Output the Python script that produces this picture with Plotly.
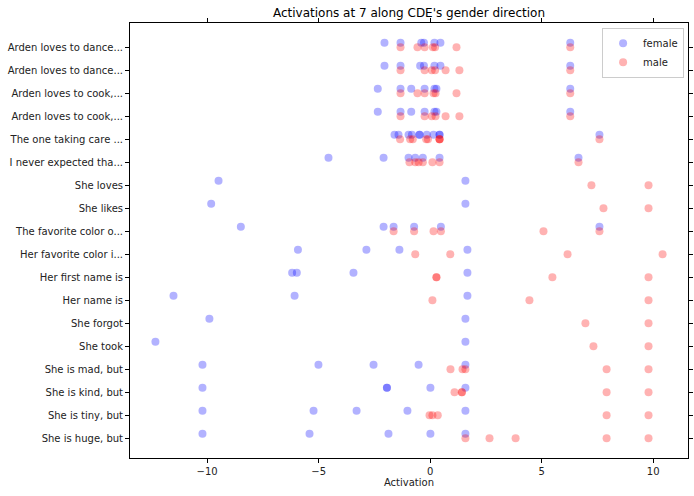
import plotly.graph_objects as go

labels = [
    "Arden loves to dance...", "Arden loves to dance...", "Arden loves to cook,...",
    "Arden loves to cook,...", "The one taking care ...", "I never expected tha...",
    "She loves", "She likes", "The favorite color o...", "Her favorite color i...",
    "Her first name is", "Her name is", "She forgot", "She took",
    "She is mad, but", "She is kind, but", "She is tiny, but", "She is huge, but",
]

female = [
    [-2.05, -1.33, -0.40, -0.28, 0.19, 0.46, 6.28],
    [-2.05, -1.33, -0.45, -0.28, 0.19, 0.46, 6.28],
    [-2.35, -1.33, -0.85, -0.25, 0.19, 0.28, 6.28],
    [-2.35, -1.33, -0.85, -0.25, 0.19, 0.28, 6.28],
    [-1.60, -1.42, -0.97, -0.82, -0.48, -0.48, -0.15, 0.15, 0.42, 0.42, 7.59],
    [-4.56, -2.09, -0.97, -0.67, -0.33, 0.42, 6.65],
    [-9.49, 1.58],
    [-9.82, 1.58],
    [-8.49, -2.09, -1.64, -0.72, 0.48, 7.59],
    [-5.93, -2.86, -1.38, 1.67],
    [-6.19, -5.98, -3.44, 1.67],
    [-11.51, -6.08, 1.67],
    [-9.90, 1.58],
    [-12.32, 1.58],
    [-10.21, -5.01, -2.54, -0.52, 1.58],
    [-10.21, -1.94, -1.94, 0.01, 1.58],
    [-10.21, -5.23, -3.30, -1.02, 1.58],
    [-10.21, -5.41, -1.87, 0.01, 1.58],
]

male = [
    [-1.33, -0.57, -0.25, 0.12, 0.22, 1.18, 6.28],
    [-1.33, -0.25, 0.07, 0.22, 0.69, 1.31, 6.28],
    [-1.33, -0.57, -0.25, 0.15, 0.24, 1.18, 6.28],
    [-1.33, -0.25, 0.07, 0.24, 0.69, 1.31, 6.28],
    [-1.35, -0.90, -0.78, -0.18, -0.10, 0.42, 0.42, 0.42, 7.59],
    [-0.93, -0.67, -0.52, -0.33, 0.10, 0.42, 6.65],
    [7.23, 9.79],
    [7.77, 9.79],
    [-1.64, -0.72, 0.15, 0.48, 5.08, 7.59],
    [-0.67, 0.90, 6.16, 10.42],
    [0.28, 0.28, 5.48, 9.79],
    [0.10, 4.45, 9.79],
    [6.96, 9.79],
    [7.32, 9.79],
    [0.91, 1.45, 1.58, 7.91, 9.79],
    [1.09, 1.42, 1.42, 7.91, 9.79],
    [-0.03, 0.10, 0.34, 7.91, 9.79],
    [1.58, 2.66, 3.83, 7.91, 9.79],
]

female_offset = -0.2

fx, fy, mx, my = [], [], [], []
for i, vals in enumerate(female):
    fx += vals
    fy += [i + female_offset] * len(vals)
for i, vals in enumerate(male):
    mx += vals
    my += [i] * len(vals)

fig = go.Figure()
fig.add_trace(go.Scatter(x=fx, y=fy, mode="markers", name="female",
                         marker=dict(color="blue", size=8, opacity=0.3, line=dict(width=0))))
fig.add_trace(go.Scatter(x=mx, y=my, mode="markers", name="male",
                         marker=dict(color="red", size=8, opacity=0.3, line=dict(width=0))))

W, H = 694, 496
fig.update_layout(
    width=W, height=H,
    margin=dict(l=130, r=6, t=23, b=38, autoexpand=False),
    plot_bgcolor="white", paper_bgcolor="white",
    font=dict(family="DejaVu Sans", size=10, color="#222"),
    title=dict(text="Activations at 7 along CDE's gender direction", x=0.5, xanchor="center",
               xref="paper", y=1 - 12.5 / H, yanchor="middle",
               font=dict(size=12, color="black")),
    showlegend=True,
    legend=dict(x=0.993, y=0.989, xanchor="right", yanchor="top",
                bordercolor="#cccccc", borderwidth=1, bgcolor="rgba(255,255,255,0.8)",
                font=dict(size=10), tracegroupgap=0, itemwidth=30),
)
fig.update_xaxes(range=[-13.46, 11.56], tickvals=[-10, -5, 0, 5, 10],
                 ticktext=["\u221210", "\u22125", "0", "5", "10"],
                 showgrid=False, zeroline=False, showline=True, linecolor="black",
                 linewidth=1, mirror="all", ticks="outside", ticklen=4, tickcolor="black",
                 automargin=False,
                 title=dict(text="Activation", standoff=2, font=dict(size=10)))
fig.update_yaxes(range=[17.86, -1.06], tickvals=list(range(len(labels))), ticktext=labels,
                 showgrid=False, zeroline=False, showline=True, linecolor="black",
                 linewidth=1, mirror="all", ticks="outside", ticklen=4, tickcolor="black",
                 automargin=False)

fig.write_html("out.html", config={"displayModeBar": False},
               post_script="document.body.style.margin='0';")
